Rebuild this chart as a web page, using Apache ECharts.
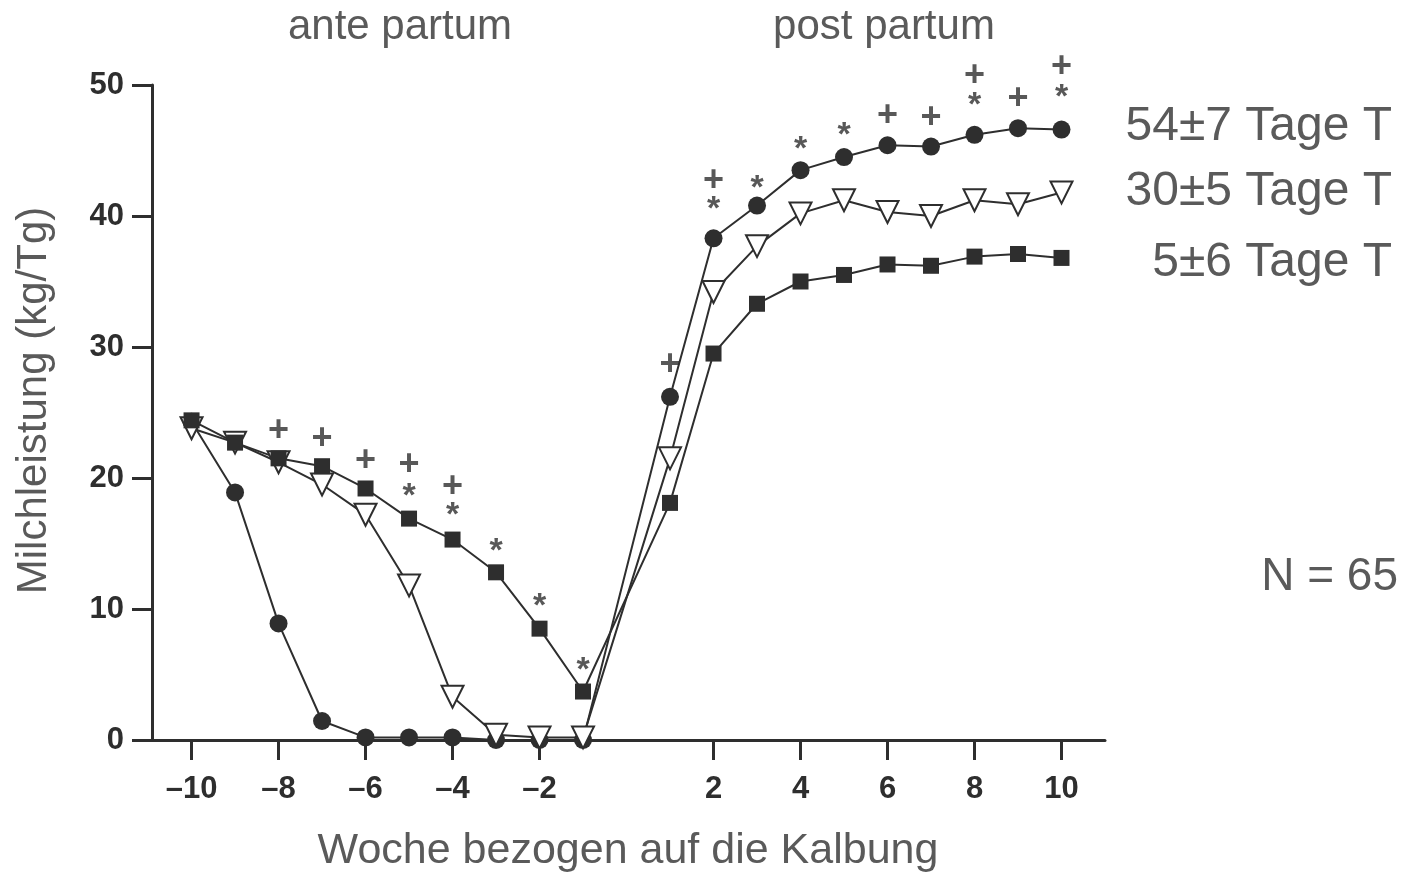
<!DOCTYPE html>
<html>
<head>
<meta charset="utf-8">
<script src="https://cdn.jsdelivr.net/npm/echarts@6/dist/echarts.min.js"></script>
<style>
  html, body { margin: 0; padding: 0; background: #fff; }
  #chart { width: 1407px; height: 876px; }
</style>
</head>
<body>
<div id="chart"></div>
<script>
// Wochen relativ zur Kalbung (keine Woche 0)
const weeks = [-10, -9, -8, -7, -6, -5, -4, -3, -2, -1, 1, 2, 3, 4, 5, 6, 7, 8, 9, 10]
const xTicks = [-10, -8, -6, -4, -2, 2, 4, 6, 8, 10]

// Milchleistung (kg/Tg) je Gruppe
const dry54 = [24.3, 18.9, 8.9, 1.45, 0.2, 0.2, 0.2, 0, 0, 0,
  26.2, 38.3, 40.8, 43.5, 44.5, 45.4, 45.3, 46.2, 46.7, 46.6]
const dry30 = [23.8, 22.7, 21.2, 19.5, 17.2, 11.8, 3.3, 0.4, 0.2, 0.2,
  21.5, 34.2, 37.7, 40.2, 41.2, 40.3, 40.0, 41.2, 40.9, 41.8]
const dry5 = [24.4, 22.7, 21.5, 20.9, 19.2, 16.9, 15.3, 12.8, 8.5, 3.7,
  18.1, 29.5, 33.3, 35.0, 35.5, 36.3, 36.2, 36.9, 37.1, 36.8]

// Signifikanz-Zeichen: [Woche, Höhe]
const plusMarks = [[-8, 23.6], [-7, 23.0], [-6, 21.3], [-5, 21.0], [-4, 19.3],
  [1, 28.6], [2, 42.7], [6, 47.6], [7, 47.5], [8, 50.7], [9, 48.9], [10, 51.4]]
const starMarks = [[-5, 18.6], [-4, 17.1], [-3, 14.4], [-2, 10.2], [-1, 5.3],
  [2, 40.5], [3, 42.1], [4, 45.1], [5, 46.1], [8, 48.4], [10, 49.0]]

const legendTexts = ['54±7 Tage T', '30±5 Tage T', '5±6 Tage T']

const ink = '#2e2e2e'
const grey = '#5a5a5a'
const font = '"Liberation Sans", Arial, sans-serif'

const pairs = vals => weeks.map((w, i) => [w, vals[i]])

const lineSeries = (name, vals, symbol, size, extra) => Object.assign({
  name,
  type: 'line',
  data: pairs(vals),
  symbol,
  symbolSize: size,
  lineStyle: { color: ink, width: 2 },
  itemStyle: { color: ink, borderColor: ink, borderWidth: 0 },
  clip: false,
  animation: false
}, extra || {})

const markSeries = (marks, txt, size) => ({
  type: 'scatter',
  data: marks,
  symbolSize: 1,
  itemStyle: { color: 'rgba(0,0,0,0)' },
  clip: false,
  animation: false,
  silent: true,
  label: {
    show: true,
    position: 'inside',
    formatter: txt,
    color: ink,
    fontFamily: font,
    fontWeight: 'bold',
    fontSize: size
  }
})

const txt = (text, x, y, size, align) => ({
  type: 'text',
  x, y,
  style: {
    text, fill: grey, font: size + 'px ' + font,
    textAlign: align || 'center', textVerticalAlign: 'middle'
  }
})

const chart = echarts.init(document.getElementById('chart'))

const option = {
  backgroundColor: '#fff',
  animation: false,
  grid: { left: 135, right: 302, top: 85, bottom: 136, outerBoundsMode: 'none', containLabel: false },
  xAxis: {
    type: 'value',
    min: -11.3,
    max: 11,
    name: 'Woche bezogen auf die Kalbung',
    nameLocation: 'middle',
    nameGap: 90,
    nameTextStyle: { color: grey, fontSize: 43, fontFamily: font, padding: [0, 0, 0, 16] },
    axisLine: { onZero: false, lineStyle: { color: ink, width: 3 } },
    axisTick: { show: true, customValues: xTicks, length: 20, lineStyle: { color: ink, width: 3 } },
    axisLabel: {
      customValues: xTicks,
      margin: 34,
      color: ink,
      fontSize: 31,
      fontWeight: 'bold',
      fontFamily: font,
      formatter: v => String(v).replace('-', '–')
    },
    splitLine: { show: false }
  },
  yAxis: {
    type: 'value',
    min: 0,
    max: 50,
    interval: 10,
    offset: -17,
    name: 'Milchleistung (kg/Tg)',
    nameLocation: 'middle',
    nameGap: 97,
    nameRotate: 90,
    nameTextStyle: { color: grey, fontSize: 42, fontFamily: font, padding: [0, 0, 0, 24] },
    axisLine: { show: true, onZero: false, lineStyle: { color: ink, width: 3 } },
    axisTick: { show: true, length: 20, lineStyle: { color: ink, width: 3 } },
    axisLabel: {
      margin: 28,
      color: ink,
      fontSize: 31,
      fontWeight: 'bold',
      fontFamily: font
    },
    splitLine: { show: false }
  },
  series: [
    lineSeries('54±7 Tage T', dry54, 'circle', 18),
    lineSeries('30±5 Tage T', dry30, 'triangle', 22, {
      symbolRotate: 180,
      itemStyle: { color: '#fff', borderColor: ink, borderWidth: 2 }
    }),
    lineSeries('5±6 Tage T', dry5, 'rect', 16),
    markSeries(plusMarks, '+', 36),
    markSeries(starMarks, '*', 34)
  ],
  graphic: [
    txt('ante partum', 400, 27, 42),
    txt('post partum', 884, 27, 42),
    txt(legendTexts[0], 1392, 127, 48, 'right'),
    txt(legendTexts[1], 1392, 192, 48, 'right'),
    txt(legendTexts[2], 1392, 263, 48, 'right'),
    txt('N = 65', 1398, 577, 46, 'right')
  ]
}

chart.setOption(option)
window.addEventListener('resize', () => chart.resize())
</script>
</body>
</html>
